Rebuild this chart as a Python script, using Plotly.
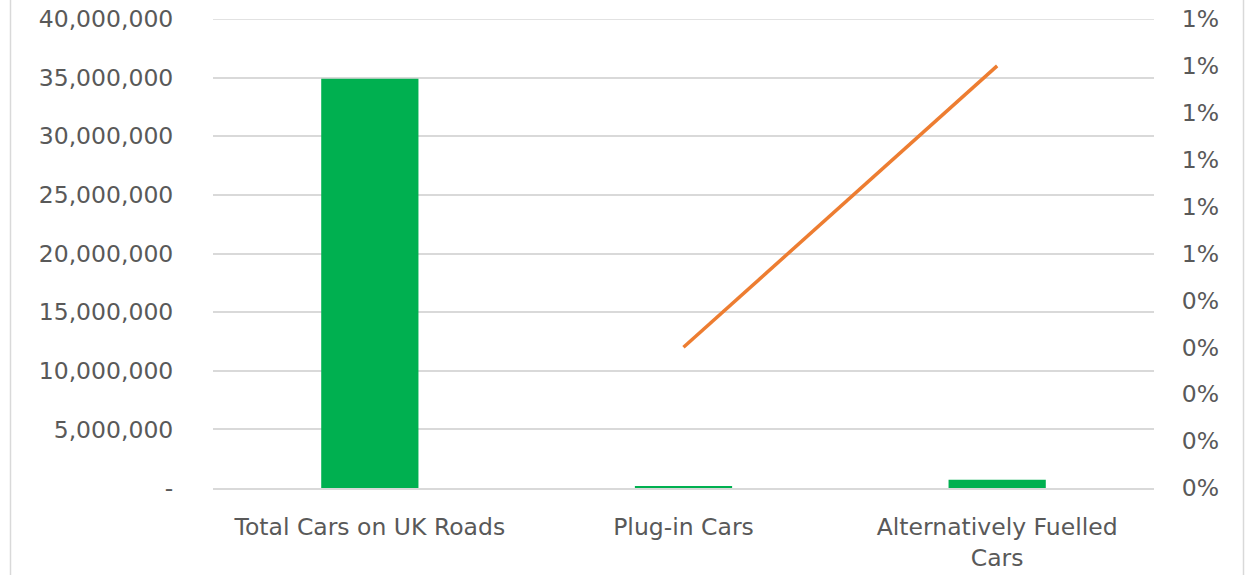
import plotly.graph_objects as go

# Categories and values
categories = ["Total Cars on UK Roads", "Plug-in Cars", "Alternatively Fuelled<br>Cars"]
car_counts = [34_900_000, 180_000, 700_000]
share_categories = ["Plug-in Cars", "Alternatively Fuelled<br>Cars"]
share_values = [0.003, 0.009]

# Axis ticks
count_ticks = [0, 5_000_000, 10_000_000, 15_000_000, 20_000_000, 25_000_000,
               30_000_000, 35_000_000, 40_000_000]
count_labels = ["-", "5,000,000", "10,000,000", "15,000,000", "20,000,000",
                "25,000,000", "30,000,000", "35,000,000", "40,000,000"]
share_ticks = [0, 0.001, 0.002, 0.003, 0.004, 0.005, 0.006, 0.007, 0.008, 0.009, 0.010]
share_labels = ["0%", "0%", "0%", "0%", "0%", "1%", "1%", "1%", "1%", "1%", "1%"]

W, H = 1248, 575
L, R, T, B = 213, 94, 19, 87
TEXT = "#595959"
GRID = "#D9D9D9"
FONT = "DejaVu Sans"
FS = 23.5

fig = go.Figure()
fig.add_trace(go.Bar(
    x=categories, y=car_counts, marker_color="#00B050", marker_line_width=0,
    width=0.31, yaxis="y", showlegend=False,
))
fig.add_trace(go.Scatter(
    x=share_categories, y=share_values, mode="lines",
    line=dict(color="#ED7D31", width=3.5), yaxis="y2", showlegend=False,
))

# Light frame edges around the chart, plus the top gridline at the axis maximum
pw = W - L - R
shapes = []
for px in (10.5, 1243.5):
    shapes.append(dict(type="line", xref="paper", yref="paper",
                       x0=(px - L) / pw, x1=(px - L) / pw, y0=-1, y1=2,
                       line=dict(color=GRID, width=1.5)))
shapes.append(dict(type="line", xref="paper", yref="y", layer="below",
                   x0=0, x1=1, y0=count_ticks[-1], y1=count_ticks[-1],
                   line=dict(color=GRID, width=1.5)))

fig.update_layout(
    width=W, height=H,
    margin=dict(l=L, r=R, t=T, b=B, pad=0),
    paper_bgcolor="white", plot_bgcolor="white",
    font=dict(family=FONT, size=FS, color=TEXT),
    xaxis=dict(
        type="category", categoryorder="array", categoryarray=categories,
        showline=True, linecolor=GRID, linewidth=1.5, automargin=False,
        showgrid=False, ticks="outside", ticklen=17, tickcolor="rgba(0,0,0,0)",
        tickfont=dict(size=FS, color=TEXT, family=FONT),
    ),
    yaxis=dict(
        range=[0, 40_000_000], tickvals=count_ticks, ticktext=count_labels,
        showgrid=True, gridcolor=GRID, gridwidth=1.5, zeroline=False,
        automargin=False,
        ticks="outside", ticklen=34, tickcolor="rgba(0,0,0,0)",
        tickfont=dict(size=FS, color=TEXT, family=FONT),
    ),
    yaxis2=dict(
        overlaying="y", side="right", range=[0, 0.010],
        tickvals=share_ticks, ticktext=share_labels,
        showgrid=False, zeroline=False, automargin=False,
        ticks="outside", ticklen=22, tickcolor="rgba(0,0,0,0)",
        tickfont=dict(size=FS, color=TEXT, family=FONT),
    ),
    shapes=shapes,
)

fig.write_html("out.html")
